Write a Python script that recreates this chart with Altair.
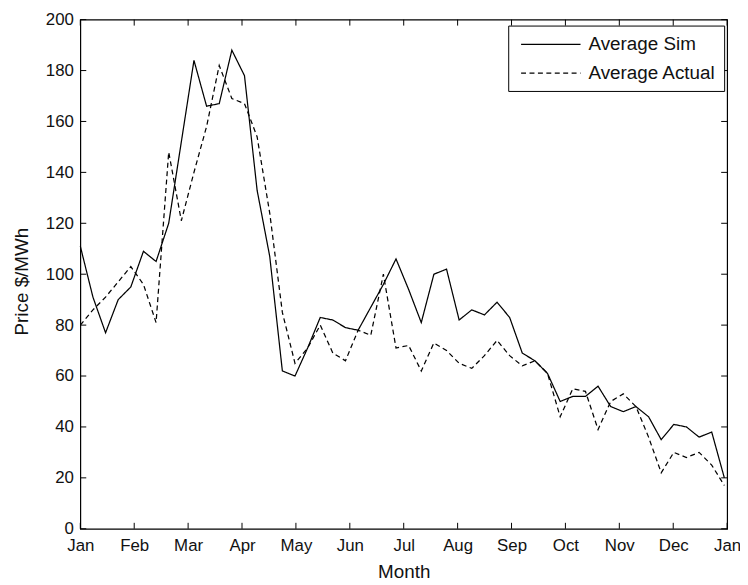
import altair as alt
import pandas as pd

# ---- data (weekly averages, $/MWh) ----
weeks = list(range(52))
sim = [111, 91, 77, 90, 95, 109, 105, 120, 152, 184, 166, 167, 188, 178, 133, 107,
       62, 60, 71, 83, 82, 79, 78, 87, 96, 106, 94, 81, 100, 102, 82, 86,
       84, 89, 83, 69, 66, 61, 50, 52, 52, 56, 48, 46, 48, 44, 35, 41,
       40, 36, 38, 20]
actual = [80, 86, 91, 97, 103, 96, 81, 148, 121, 140, 158, 182, 169, 167, 154, 124,
          85, 65, 71, 80, 69, 66, 78, 76, 100, 71, 72, 62, 73, 70, 65, 63,
          68, 74, 68, 64, 66, 61, 44, 55, 54, 39, 50, 53, 48, 36, 22, 30,
          28, 30, 25, 17]
month_labels = ["Jan", "Feb", "Mar", "Apr", "May", "Jun", "Jul",
                "Aug", "Sep", "Oct", "Nov", "Dec", "Jan"]
y_ticks = [0, 20, 40, 60, 80, 100, 120, 140, 160, 180, 200]
series_names = ["Average Sim", "Average Actual"]

WEEKS_ON_AXIS = 51.22  # number of weeks spanned by the 12-month axis

rows = []
for w, s, a in zip(weeks, sim, actual):
    m = w * 12 / WEEKS_ON_AXIS
    rows.append({"month": m, "price": s, "series": series_names[0]})
    rows.append({"month": m, "price": a, "series": series_names[1]})
df = pd.DataFrame(rows)

FONT = "Liberation Sans, Arial"
TEXT = "#111"
W, H = 653, 514
TICK = 6

xscale = alt.Scale(domain=[0, 12], nice=False, zero=False)
yscale = alt.Scale(domain=[0, 200], nice=False, zero=False)

label_expr = "[" + ",".join(f"'{m}'" for m in month_labels) + "][round(datum.value)]"

x_axis = alt.Axis(values=list(range(len(month_labels))), labelExpr=label_expr,
                  title="Month", ticks=False, domain=False, grid=False,
                  labelPadding=9, titlePadding=9, labelFlush=False)
y_axis = alt.Axis(values=y_ticks, title="Price $/MWh", ticks=False, domain=False,
                  grid=False, labelPadding=7, titlePadding=14, titleY=264)

lines = alt.Chart(df).mark_line(strokeWidth=1.25, color="black").encode(
    x=alt.X("month:Q", scale=xscale, axis=x_axis),
    y=alt.Y("price:Q", scale=yscale, axis=y_axis),
    strokeDash=alt.StrokeDash(
        "series:N",
        scale=alt.Scale(domain=series_names, range=[[1, 0], [5, 3.5]]),
        legend=alt.Legend(
            orient="none", legendX=432, legendY=6, title=None,
            symbolType="M-0.6,0H5.4", symbolSize=400, symbolStrokeWidth=1.25,
            symbolStrokeColor="black", labelFont=FONT, labelFontSize=19,
            labelColor=TEXT, labelOffset=51, labelLimit=400,
            padding=8, rowPadding=8, strokeColor="black", fillColor="white",
            cornerRadius=0,
        ),
    ),
)

ytick_df = pd.DataFrame({"price": y_ticks})
xtick_df = pd.DataFrame({"month": list(range(len(month_labels)))})

ytick_left = alt.Chart(ytick_df).mark_rule(color="black", strokeWidth=1).encode(
    y=alt.Y("price:Q", scale=yscale), x=alt.value(0), x2=alt.value(TICK))
ytick_right = alt.Chart(ytick_df).mark_rule(color="black", strokeWidth=1).encode(
    y=alt.Y("price:Q", scale=yscale), x=alt.value(W - TICK), x2=alt.value(W))
xtick_top = alt.Chart(xtick_df).mark_rule(color="black", strokeWidth=1).encode(
    x=alt.X("month:Q", scale=xscale), y=alt.value(0), y2=alt.value(TICK))
xtick_bottom = alt.Chart(xtick_df).mark_rule(color="black", strokeWidth=1).encode(
    x=alt.X("month:Q", scale=xscale), y=alt.value(H - TICK), y2=alt.value(H))

chart = alt.layer(lines, ytick_left, ytick_right, xtick_top, xtick_bottom).properties(
    width=W, height=H,
    background="white",
    autosize=alt.AutoSizeParams(type="none"),
    padding={"left": 73, "top": 9, "right": 13, "bottom": 52},
).configure_view(stroke="black", strokeWidth=1.2).configure_axis(
    labelFont=FONT, labelFontSize=17, labelColor=TEXT,
    titleFont=FONT, titleFontSize=19, titleColor=TEXT, titleFontWeight="normal",
)

chart.save("out.html", embed_options={"renderer": "svg", "actions": False})
